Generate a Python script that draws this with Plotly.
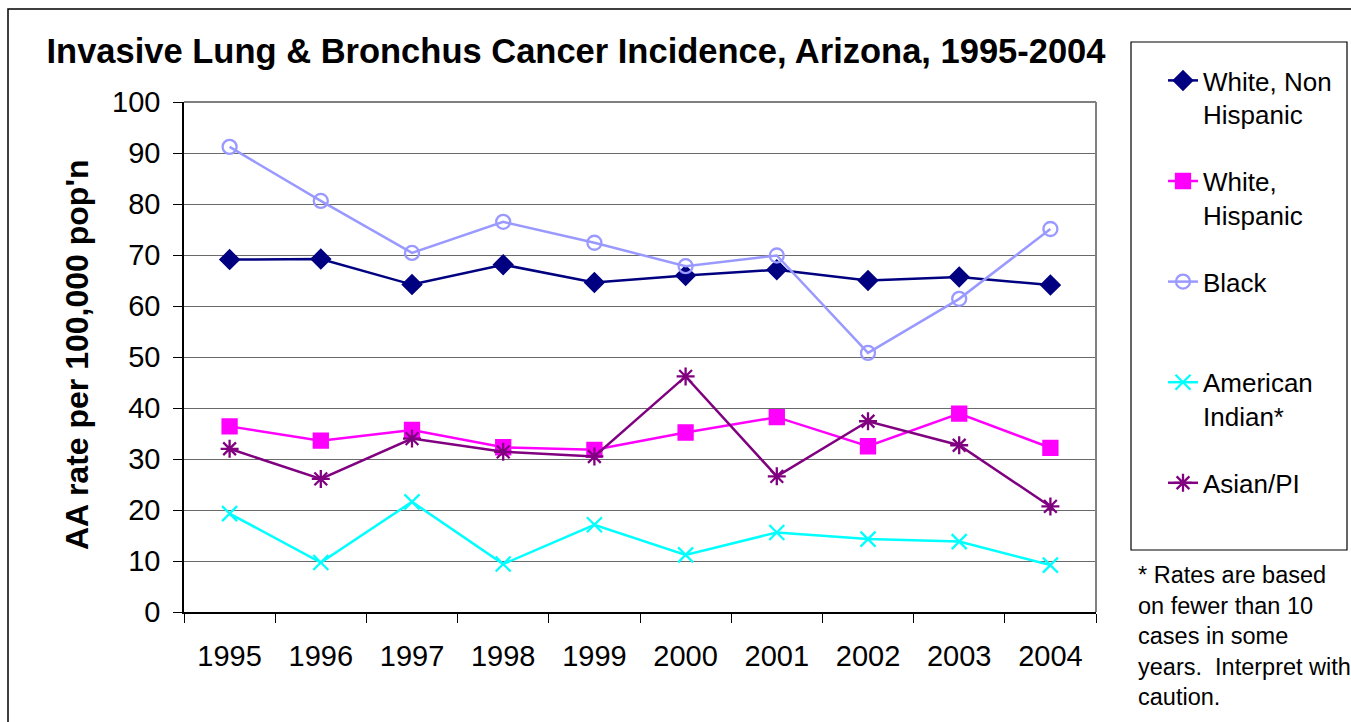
import plotly.graph_objects as go

years = ["1995", "1996", "1997", "1998", "1999", "2000", "2001", "2002", "2003", "2004"]
white_non_hispanic = [69.1, 69.2, 64.2, 68.1, 64.6, 66.0, 67.1, 65.0, 65.7, 64.1]
white_hispanic = [36.4, 33.6, 35.7, 32.3, 31.8, 35.2, 38.2, 32.5, 38.9, 32.2]
black = [91.2, 80.6, 70.4, 76.5, 72.4, 67.8, 69.9, 50.8, 61.4, 75.1]
american_indian = [19.3, 9.7, 21.6, 9.4, 17.1, 11.2, 15.6, 14.3, 13.8, 9.2]
asian_pi = [32.0, 26.1, 34.0, 31.4, 30.5, 46.2, 26.6, 37.4, 32.7, 20.7]

series_names = ["White, Non<br>Hispanic", "White,<br>Hispanic", "Black<br> ",
                "American<br>Indian*", "Asian/PI"]
series_values = [white_non_hispanic, white_hispanic, black, american_indian, asian_pi]
colors = ["#000080", "#FF00FF", "#9999FF", "#00FFFF", "#800080"]
symbols = ["diamond", "square", "circle-open", "x-thin-open", "asterisk-open"]
sizes = [14, 14, 14, 15, 15]

FONT = "Liberation Sans, Arial, sans-serif"

fig = go.Figure()
for i, (name, vals) in enumerate(zip(series_names, series_values)):
    fig.add_trace(go.Scatter(
        x=years, y=vals, name=name, mode="lines+markers",
        legendgroup=f"g{i}",
        line=dict(color=colors[i], width=2.5),
        marker=dict(symbol=symbols[i], size=sizes[i], color=colors[i],
                    line=dict(color=colors[i], width=2.3)),
    ))

L, R, T, B = 184, 1096, 102, 612
W, H = 1351, 722
pw, ph = R - L, B - T

def px(x):
    return (x - L) / pw

def py(y):
    return (B - y) / ph

fig.update_layout(
    width=W, height=H,
    margin=dict(l=L, r=W - R, t=T, b=H - B, pad=0),
    paper_bgcolor="white", plot_bgcolor="white",
    font=dict(family=FONT, color="black"),
    showlegend=True,
    legend=dict(
        x=px(1163), y=py(57), xanchor="left", yanchor="top",
        font=dict(family=FONT, size=26, color="black"),
        valign="top", tracegroupgap=30, bgcolor="rgba(0,0,0,0)",
        borderwidth=0, maxheight=700,
    ),
    title=dict(
        text="<b>Invasive Lung & Bronchus Cancer Incidence, Arizona, 1995-2004</b>",
        font=dict(family=FONT, size=34.5, color="black"),
        x=px(576), xref="paper", xanchor="center",
        y=1 - 51 / H, yref="container", yanchor="middle",
    ),
    xaxis=dict(
        type="category", range=[-0.5, len(years) - 0.5],
        showgrid=False, showline=True, linecolor="black", linewidth=1.5,
        ticks="outside", ticklen=9, tickcolor="black", tickwidth=1.2,
        tickson="boundaries", tickfont=dict(family=FONT, size=29, color="black"),
        ticklabelstandoff=17, zeroline=False,
    ),
    yaxis=dict(
        range=[0, 100], dtick=10, tick0=0, showgrid=True, gridcolor="#6a6a6a", gridwidth=1.2,
        showline=True, linecolor="black", linewidth=1.5,
        ticks="outside", ticklen=9, tickcolor="black", tickwidth=1.2,
        tickfont=dict(family=FONT, size=29, color="black"), ticklabelstandoff=7,
        zeroline=False,
    ),
    shapes=[
        dict(type="line", xref="paper", yref="paper", x0=1, x1=1, y0=0, y1=1,
             line=dict(color="#808080", width=2)),
        dict(type="line", xref="paper", yref="paper", x0=0, x1=1, y0=1, y1=1,
             line=dict(color="#808080", width=2)),
        dict(type="rect", xref="paper", yref="paper",
             x0=px(1131), x1=px(1347), y0=py(550), y1=py(42),
             line=dict(color="black", width=1.2)),
        dict(type="rect", xref="paper", yref="paper",
             x0=px(8), x1=px(1420), y0=py(780), y1=py(9),
             line=dict(color="black", width=1.5)),
    ],
    annotations=[
        dict(text="<b>AA rate per 100,000 pop'n</b>", textangle=-90,
             xref="paper", yref="paper", x=px(77), y=py(355),
             xanchor="center", yanchor="middle", showarrow=False,
             font=dict(family=FONT, size=32, color="black")),
        dict(text="* Rates are based<br>on fewer than 10<br>cases in some<br>years.\u00a0 Interpret with<br>caution.",
             xref="paper", yref="paper", x=px(1136), y=py(636),
             xanchor="left", yanchor="middle", align="left", showarrow=False,
             font=dict(family=FONT, size=23.5, color="black")),
    ],
)

fig.write_html("out.html", config={"displayModeBar": False},
               post_script="document.body.style.margin='0';document.body.style.padding='0';")
